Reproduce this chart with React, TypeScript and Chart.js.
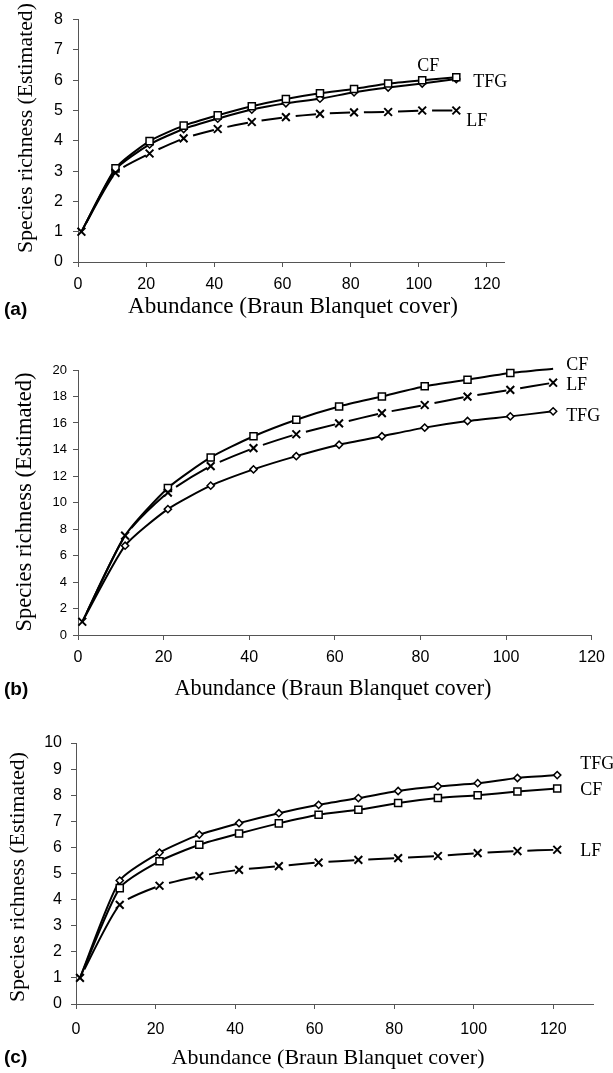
import React, { useEffect, useRef } from "react";
import { Chart, registerables } from "chart.js";

Chart.register(...registerables);

// ---------- data ----------
const abundanceAB = [1, 11, 21, 31, 41, 51, 61, 71, 81, 91, 101, 111];
const abundanceC = [1, 11, 21, 31, 41, 51, 61, 71, 81, 91, 101, 111, 121];

const cfA = [1, 3.09, 3.99, 4.5, 4.84, 5.14, 5.38, 5.57, 5.71, 5.89, 6.0, 6.1];
const tfgA = [1, 3.05, 3.88, 4.39, 4.73, 5.03, 5.24, 5.39, 5.6, 5.76, 5.89, 6.04];
const lfA = [1, 2.94, 3.58, 4.08, 4.39, 4.62, 4.78, 4.89, 4.94, 4.95, 5.0, 5.0];

const cfB = [1, 7.5, 11.1, 13.4, 15.0, 16.25, 17.25, 18.0, 18.77, 19.27, 19.77, 20.1];
const lfB = [1, 7.5, 10.75, 12.75, 14.1, 15.15, 15.97, 16.75, 17.36, 17.99, 18.5, 19.04];
const tfgB = [1, 6.74, 9.5, 11.27, 12.5, 13.5, 14.36, 15.0, 15.65, 16.15, 16.5, 16.88];

const tfgC = [1, 4.73, 5.8, 6.49, 6.93, 7.31, 7.63, 7.89, 8.16, 8.34, 8.46, 8.66, 8.77];
const cfC = [1, 4.44, 5.47, 6.1, 6.53, 6.92, 7.25, 7.44, 7.7, 7.89, 8.0, 8.14, 8.26];
const lfC = [1, 3.8, 4.53, 4.9, 5.14, 5.28, 5.42, 5.52, 5.59, 5.67, 5.78, 5.86, 5.91];

const xTicks = [0, 20, 40, 60, 80, 100, 120];
const yTicksA = [0, 1, 2, 3, 4, 5, 6, 7, 8];
const yTicksB = [0, 2, 4, 6, 8, 10, 12, 14, 16, 18, 20];
const yTicksC = [0, 1, 2, 3, 4, 5, 6, 7, 8, 9, 10];

const xTitle = "Abundance (Braun Blanquet cover)";
const yTitle = "Species richness (Estimated)";

// ---------- layout ----------
const W = 613;
const SERIF = '"Liberation Serif", "Times New Roman", serif';
const SANS = '"Liberation Sans", Arial, sans-serif';
const AXIS = "#555";

type Lbl = { dx: number; dy: number };
type Panel = {
  tag: string;
  top: number;
  height: number;
  area: { left: number; right: number; top: number; bottom: number };
  xMax: number;
  yMax: number;
  xs: number[];
  cf: number[];
  tfg: number[];
  lf: number[];
  yTicks: number[];
  hideCF: number[];
  hideTFG: number[];
  xFont: number;
  yFont: number;
  xPad: number;
  yPad: number;
  yT: { x: number; y: number; w: number };
  xT: { x: number; y: number; w: number };
  tagY: number;
  lbl: { CF: Lbl; TFG: Lbl; LF: Lbl };
};

const panels: Panel[] = [
  {
    tag: "(a)",
    top: 0,
    height: 330,
    area: { left: 78, right: 504, top: 17, bottom: 262 },
    xMax: 125,
    yMax: 8,
    xs: abundanceAB,
    cf: cfA,
    tfg: tfgA,
    lf: lfA,
    yTicks: yTicksA,
    hideCF: [0],
    hideTFG: [0],
    xFont: 16,
    yFont: 16,
    xPad: 8,
    yPad: 10,
    yT: { x: 26, y: 128, w: 250 },
    xT: { x: 293, y: 307, w: 330 },
    tagY: 310,
    lbl: { CF: { dx: -39, dy: -11 }, TFG: { dx: 17, dy: 3 }, LF: { dx: 10, dy: 11 } },
  },
  {
    tag: "(b)",
    top: 330,
    height: 370,
    area: { left: 78, right: 598, top: 40, bottom: 305 },
    xMax: 120,
    yMax: 20,
    xs: abundanceAB,
    cf: cfB,
    tfg: tfgB,
    lf: lfB,
    yTicks: yTicksB,
    hideCF: [0, 1, 11],
    hideTFG: [0],
    xFont: 16,
    yFont: 13,
    xPad: 8,
    yPad: 6,
    yT: { x: 25, y: 172, w: 259 },
    xT: { x: 333, y: 359, w: 317 },
    tagY: 360,
    lbl: { CF: { dx: 13, dy: -3 }, TFG: { dx: 13, dy: 5 }, LF: { dx: 13, dy: 3 } },
  },
  {
    tag: "(c)",
    top: 700,
    height: 373,
    area: { left: 76, right: 593, top: 43, bottom: 304 },
    xMax: 130,
    yMax: 10,
    xs: abundanceC,
    cf: cfC,
    tfg: tfgC,
    lf: lfC,
    yTicks: yTicksC,
    hideCF: [0],
    hideTFG: [0],
    xFont: 16,
    yFont: 16,
    xPad: 11,
    yPad: 9,
    yT: { x: 18, y: 177, w: 250 },
    xT: { x: 328, y: 358, w: 313 },
    tagY: 358,
    lbl: { CF: { dx: 23, dy: 2 }, TFG: { dx: 23, dy: -11 }, LF: { dx: 23, dy: 2 } },
  },
];

function fitFont(ctx: CanvasRenderingContext2D, text: string, family: string, target: number, weight = "") {
  ctx.font = `${weight} 100px ${family}`;
  const w = ctx.measureText(text).width;
  const size = (100 * target) / w;
  ctx.font = `${weight} ${size}px ${family}`;
}

function PanelChart({ p }: { p: Panel }) {
  const ref = useRef<HTMLCanvasElement | null>(null);

  useEffect(() => {
    const canvas = ref.current;
    if (!canvas) return;
    const H = p.height;
    const pts = (vals: number[]) => p.xs.map((x, i) => ({ x, y: vals[i] }));
    const radii = (r: number, hide: number[]) => p.xs.map((_, i) => (hide.includes(i) ? 0 : r));
    const names = ["CF", "TFG", "LF"];

    const g1 = 10;
    const g2 = 4;
    const segLen = (c: any) => Math.hypot(c.p1.x - c.p0.x, c.p1.y - c.p0.y);

    const textPlugin = {
      id: "panelText",
      afterDraw(chart: any) {
        const ctx: CanvasRenderingContext2D = chart.ctx;
        ctx.save();
        ctx.fillStyle = "#000";
        // series labels
        ctx.textAlign = "left";
        ctx.textBaseline = "middle";
        ctx.font = `18px ${SERIF}`;
        chart.data.datasets.forEach((ds: any, i: number) => {
          const nm = ds.label as "CF" | "TFG" | "LF";
          const meta = chart.getDatasetMeta(i);
          const el = meta.data[meta.data.length - 1];
          const o = p.lbl[nm];
          ctx.fillText(nm, el.x + o.dx, el.y + o.dy);
        });
        // x title
        ctx.textAlign = "center";
        fitFont(ctx, xTitle, SERIF, p.xT.w);
        ctx.fillText(xTitle, p.xT.x, p.xT.y);
        // y title
        ctx.save();
        ctx.translate(p.yT.x, p.yT.y);
        ctx.rotate(-Math.PI / 2);
        fitFont(ctx, yTitle, SERIF, p.yT.w);
        ctx.fillText(yTitle, 0, 0);
        ctx.restore();
        // panel tag
        ctx.textAlign = "left";
        ctx.font = `bold 19px ${SANS}`;
        ctx.fillText(p.tag, 4, p.tagY);
        ctx.restore();
      },
    };

    const common = {
      borderColor: "#000",
      borderWidth: 2,
      pointBorderColor: "#000",
      pointBackgroundColor: "#fff",
      pointBorderWidth: 1.5,
      tension: 0.2,
      fill: false,
      clip: 8,
    };

    const chart = new Chart(canvas, {
      type: "line",
      data: {
        datasets: [
          {
            ...common,
            label: names[2],
            data: pts(p.lf),
            pointStyle: "crossRot",
            pointRadius: radii(5.5, []),
            pointBorderWidth: 2,
            order: 1,
            segment: {
              borderDash: (c: any) => {
                const L = segLen(c);
                const on = Math.max(L - g1 - g2, 1);
                return [on, L - on + c.p0DataIndex * 0.001];
              },
              borderDashOffset: (c: any) => {
                const L = segLen(c);
                const on = Math.max(L - g1 - g2, 1);
                return on + (L - on) - g1;
              },
            },
          },
          {
            ...common,
            label: names[0],
            data: pts(p.cf),
            pointStyle: "rect",
            pointRadius: radii(5, p.hideCF),
            order: 2,
          },
          {
            ...common,
            label: names[1],
            data: pts(p.tfg),
            pointStyle: "rectRot",
            pointRadius: radii(3.6, p.hideTFG),
            order: 3,
          },
        ],
      },
      options: {
        responsive: false,
        animation: false,
        devicePixelRatio: 1,
        layout: {
          padding: { left: 0, top: p.area.top, right: W - p.area.right, bottom: 0 },
        },
        plugins: {
          legend: { display: false },
          tooltip: { enabled: false },
          title: { display: false },
        },
        scales: {
          x: {
            type: "linear",
            min: 0,
            max: p.xMax,
            afterBuildTicks: (axis: any) => {
              axis.ticks = xTicks.map((v) => ({ value: v }));
            },
            afterFit: (s: any) => {
              s.height = H - p.area.bottom;
            },
            grid: { drawOnChartArea: false, drawTicks: true, tickLength: 5, color: AXIS, lineWidth: 1 },
            border: { display: true, color: AXIS, width: 1 },
            ticks: {
              color: "#000",
              font: { family: SANS, size: p.xFont },
              padding: p.xPad,
              maxRotation: 0,
              autoSkip: false,
            },
          },
          y: {
            type: "linear",
            min: 0,
            max: p.yMax,
            afterBuildTicks: (axis: any) => {
              axis.ticks = p.yTicks.map((v) => ({ value: v }));
            },
            afterFit: (s: any) => {
              s.width = p.area.left;
            },
            grid: { drawOnChartArea: false, drawTicks: true, tickLength: 5, color: AXIS, lineWidth: 1 },
            border: { display: true, color: AXIS, width: 1 },
            ticks: {
              color: "#000",
              font: { family: SANS, size: p.yFont },
              padding: p.yPad,
              autoSkip: false,
            },
          },
        },
      },
      plugins: [textPlugin],
    } as any);

    return () => chart.destroy();
  }, [p]);

  return (
    <canvas
      ref={ref}
      width={W}
      height={p.height}
      style={{ position: "absolute", left: 0, top: p.top, width: W, height: p.height }}
    />
  );
}

export default function App() {
  return (
    <div
      style={{
        position: "absolute",
        left: 0,
        top: 0,
        width: W,
        height: 1073,
        background: "#fff",
        overflow: "hidden",
      }}
    >
      {panels.map((p) => (
        <PanelChart key={p.tag} p={p} />
      ))}
    </div>
  );
}
